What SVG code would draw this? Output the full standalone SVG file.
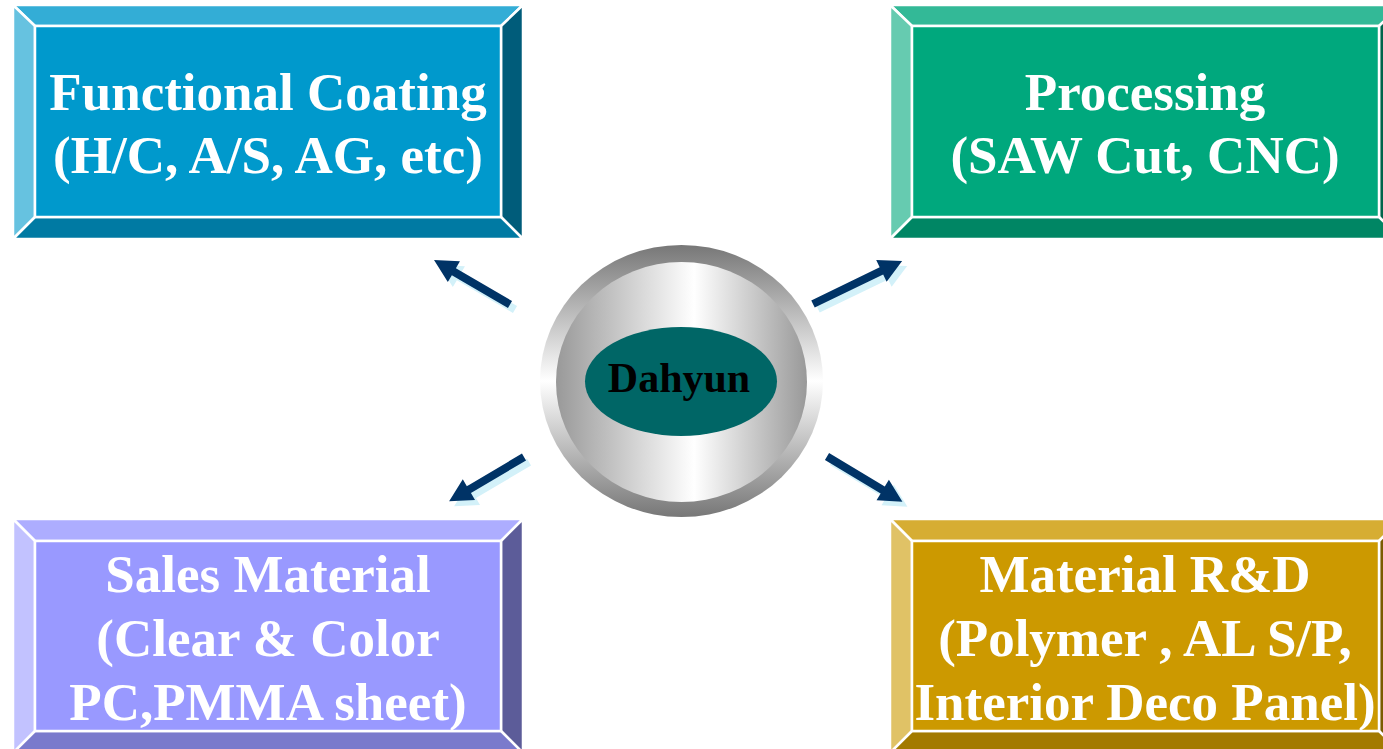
<svg xmlns="http://www.w3.org/2000/svg" width="1383" height="749" viewBox="0 0 1383 749">
<style>
.bv{stroke:#ffffff;stroke-width:2.5;stroke-linejoin:miter}
.lbl{font-family:"Liberation Serif","Times New Roman",serif;font-weight:bold;font-size:53px;fill:#ffffff;text-anchor:middle}
.hub{font-family:"Liberation Serif","Times New Roman",serif;font-weight:bold;font-size:42px;fill:#000000;text-anchor:middle}
.arw{fill:#003366}
.shd{fill:#D3F1F9}
</style>
<defs>
<linearGradient id="ring" x1="0" y1="0" x2="0" y2="1">
<stop offset="0" stop-color="#777777"/>
<stop offset="0.5" stop-color="#ffffff"/>
<stop offset="1" stop-color="#777777"/>
</linearGradient>
<linearGradient id="disk" x1="0" y1="0" x2="1" y2="0">
<stop offset="0" stop-color="#999999"/>
<stop offset="0.55" stop-color="#ffffff"/>
<stop offset="1" stop-color="#999999"/>
</linearGradient>
<path id="a1" d="M0,-4 H65 V-12 L88,0 L65,12 V4 H0 Z"/>
<path id="a2" d="M0,-4 H76 V-12 L99,0 L76,12 V4 H0 Z"/>
<path id="a3" d="M0,-4 H64 V-12 L87,0 L64,12 V4 H0 Z"/>
<path id="a4" d="M0,-4 H65 V-12 L88,0 L65,12 V4 H0 Z"/>
</defs>
<rect width="1383" height="749" fill="#ffffff"/>

<g id="node-functional-coating">
<polygon class="bv" fill="#33ADD6" points="13,5 523,5 501,26 35,26"/>
<polygon class="bv" fill="#66C2E0" points="13,5 35,26 35,217 13,239"/>
<polygon class="bv" fill="#005C7A" points="523,5 523,239 501,217 501,26"/>
<polygon class="bv" fill="#007AA3" points="13,239 35,217 501,217 523,239"/>
<rect class="bv" fill="#0099CC" x="35" y="26" width="466" height="191"/>
<text class="lbl" x="268" y="110">Functional Coating</text>
<text class="lbl" x="268" y="173">(H/C, A/S, AG, etc)</text>
</g>

<g id="node-processing">
<polygon class="bv" fill="#33B997" points="890,5 1401,5 1379,26 912,26"/>
<polygon class="bv" fill="#66CBB0" points="890,5 912,26 912,217 890,239"/>
<polygon class="bv" fill="#00654B" points="1401,5 1401,239 1379,217 1379,26"/>
<polygon class="bv" fill="#008664" points="890,239 912,217 1379,217 1401,239"/>
<rect class="bv" fill="#00A87D" x="912" y="26" width="467" height="191"/>
<text class="lbl" x="1145" y="110">Processing</text>
<text class="lbl" x="1145" y="173">(SAW Cut, CNC)</text>
</g>

<g id="node-sales-material">
<polygon class="bv" fill="#ADADFF" points="13,519 523,519 501,541 35,541"/>
<polygon class="bv" fill="#C2C2FF" points="13,519 35,541 35,731 13,753"/>
<polygon class="bv" fill="#5C5C99" points="523,519 523,753 501,731 501,541"/>
<polygon class="bv" fill="#7A7ACC" points="13,753 35,731 501,731 523,753"/>
<rect class="bv" fill="#9999FF" x="35" y="541" width="466" height="190"/>
<text class="lbl" x="268" y="592">Sales Material</text>
<text class="lbl" x="268" y="656">(Clear &amp; Color</text>
<text class="lbl" x="268" y="720">PC,PMMA sheet)</text>
</g>

<g id="node-material-rd">
<polygon class="bv" fill="#D6AD33" points="890,519 1401,519 1379,541 912,541"/>
<polygon class="bv" fill="#E0C266" points="890,519 912,541 912,731 890,753"/>
<polygon class="bv" fill="#7A5C00" points="1401,519 1401,753 1379,731 1379,541"/>
<polygon class="bv" fill="#A37A00" points="890,753 912,731 1379,731 1401,753"/>
<rect class="bv" fill="#CC9900" x="912" y="541" width="467" height="190"/>
<text class="lbl" x="1145" y="592">Material R&amp;D</text>
<text class="lbl" x="1145" y="656">(Polymer , AL S/P,</text>
<text class="lbl" x="1145" y="720">Interior Deco Panel)</text>
</g>

<g id="node-dahyun">
<ellipse cx="681.5" cy="381" rx="141.5" ry="136" fill="url(#ring)"/>
<ellipse cx="681.5" cy="382" rx="125.5" ry="120" fill="url(#disk)"/>
<ellipse cx="681" cy="381.5" rx="96" ry="54.5" fill="#006666"/>
<text class="hub" x="679" y="392">Dahyun</text>
</g>

<g id="connectors">
<g transform="translate(5,5)">
<use href="#a1" class="shd" transform="translate(510,304.5) rotate(210.3)"/>
<use href="#a2" class="shd" transform="translate(813,304) rotate(-25.8)"/>
<use href="#a3" class="shd" transform="translate(524,457) rotate(149.4)"/>
<use href="#a4" class="shd" transform="translate(827,456.5) rotate(31)"/>
</g>
<use href="#a1" class="arw" transform="translate(510,304.5) rotate(210.3)"/>
<use href="#a2" class="arw" transform="translate(813,304) rotate(-25.8)"/>
<use href="#a3" class="arw" transform="translate(524,457) rotate(149.4)"/>
<use href="#a4" class="arw" transform="translate(827,456.5) rotate(31)"/>
</g>
</svg>
